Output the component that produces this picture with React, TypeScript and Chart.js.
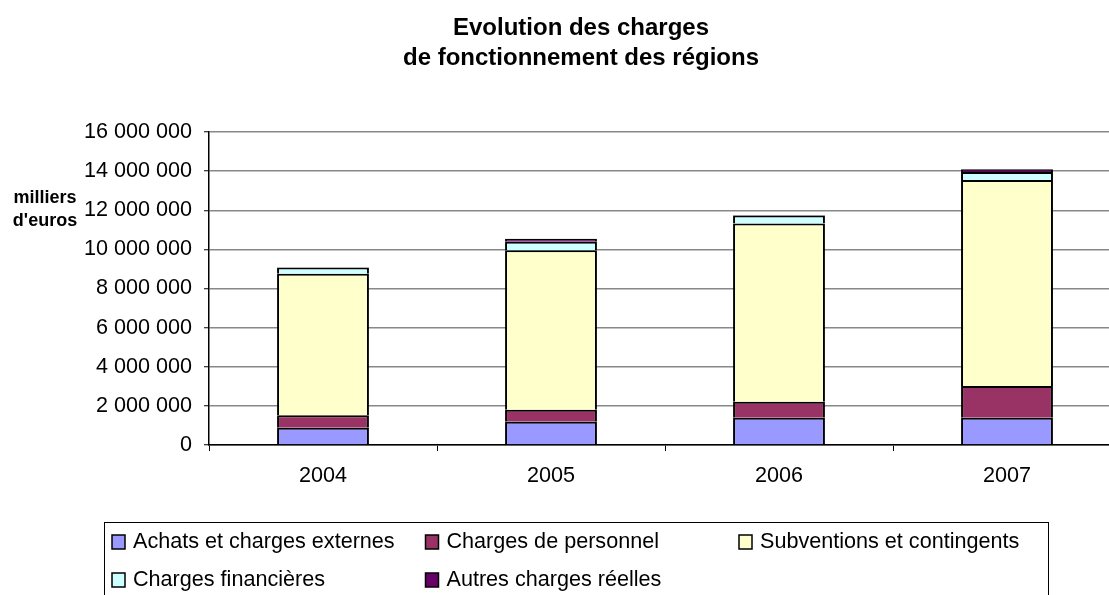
import React, { useEffect, useRef } from "react";
import { Chart, registerables } from "chart.js";

Chart.register(...registerables);

const categories = ["2004", "2005", "2006", "2007"];
const achats = [880000, 1190000, 1390000, 1390000];
const personnel = [640000, 610000, 820000, 1620000];
const subventions = [7230000, 8160000, 9110000, 10530000];
const financieres = [320000, 430000, 410000, 410000];
const autres = [20000, 150000, 25000, 150000];

const seriesNames = [
  "Achats et charges externes",
  "Charges de personnel",
  "Subventions et contingents",
  "Charges financières",
  "Autres charges réelles",
];
const seriesColors = ["#9999FF", "#993366", "#FFFFCC", "#CCFFFF", "#660066"];
const titleLines = ["Evolution des charges", "de fonctionnement des régions"];
const axisTitleLines = ["milliers", "d'euros"];

const FONT = "'Liberation Sans', Arial, sans-serif";

const fmt = (v: number) =>
  Math.round(v).toString().replace(/\B(?=(\d{3})+(?!\d))/g, " ");

const decorPlugin = {
  id: "decor",
  afterDraw(chart: any) {
    const ctx = chart.ctx;
    ctx.save();
    // Title
    ctx.fillStyle = "#000";
    ctx.font = `bold 24px ${FONT}`;
    ctx.textAlign = "center";
    ctx.textBaseline = "alphabetic";
    ctx.fillText(titleLines[0], 581, 35);
    ctx.fillText(titleLines[1], 581, 65);
    // Axis title
    ctx.font = `bold 18px ${FONT}`;
    ctx.textBaseline = "middle";
    ctx.fillText(axisTitleLines[0], 45, 198);
    ctx.fillText(axisTitleLines[1], 45, 221);
    // Legend box
    ctx.strokeStyle = "#000";
    ctx.lineWidth = 1;
    ctx.strokeRect(104.5, 522.5, 944, 90);
    const colX = [112, 425.5, 739];
    const rowY = [542, 580];
    ctx.font = `21.6px ${FONT}`;
    ctx.textAlign = "left";
    seriesNames.forEach((name, i) => {
      const col = i < 3 ? i : i - 3;
      const row = i < 3 ? 0 : 1;
      const x = colX[col];
      const y = rowY[row];
      ctx.fillStyle = seriesColors[i];
      ctx.fillRect(x, y - 7, 13, 14);
      ctx.strokeStyle = "#000";
      ctx.lineWidth = 1.5;
      ctx.strokeRect(x, y - 7, 13, 14);
      ctx.fillStyle = "#000";
      ctx.fillText(name, x + 21, y);
    });
    ctx.restore();
  },
};

export default function App() {
  const ref = useRef<HTMLCanvasElement>(null);
  useEffect(() => {
    if (!ref.current) return;
    const data = [achats, personnel, subventions, financieres, autres];
    const chart = new Chart(ref.current, {
      type: "bar",
      data: {
        labels: categories,
        datasets: data.map((d, i) => ({
          label: seriesNames[i],
          data: d,
          backgroundColor: seriesColors[i],
          borderColor: "#000",
          borderWidth: { top: 2, left: 2, right: 2, bottom: 0 },
          borderSkipped: false,
          inflateAmount: 0,
          categoryPercentage: 1,
          barPercentage: 0.403,
        })),
      },
      options: {
        responsive: false,
        animation: false,
        devicePixelRatio: 1,
        layout: { padding: { left: 0, top: 132, right: 9, bottom: 0 } },
        plugins: {
          legend: { display: false },
          title: { display: false },
          tooltip: { enabled: false },
        },
        scales: {
          x: {
            stacked: true,
            afterFit: (s: any) => {
              s.height = 150;
            },
            grid: {
              offset: true,
              drawOnChartArea: false,
              drawTicks: true,
              tickLength: 6,
              tickColor: "#000",
              tickWidth: 1,
            },
            border: { display: true, color: "#000", width: 1.5 },
            ticks: {
              color: "#000",
              font: { family: FONT, size: 21.6 },
              padding: 12,
              maxRotation: 0,
            },
          },
          y: {
            stacked: true,
            min: 0,
            max: 16000000,
            afterFit: (s: any) => {
              s.width = 209;
            },
            grid: {
              color: "#888",
              lineWidth: 1.5,
              drawTicks: true,
              tickLength: 5,
              tickColor: "#000",
              tickWidth: 1,
            },
            border: { display: true, color: "#000", width: 1.5 },
            ticks: {
              stepSize: 2000000,
              color: "#000",
              font: { family: FONT, size: 21.6 },
              padding: 12,
              callback: (v: any) => fmt(Number(v)),
            },
          },
        },
      },
      plugins: [decorPlugin],
    });
    return () => chart.destroy();
  }, []);
  return (
    <div
      style={{
        position: "fixed",
        left: 0,
        top: 0,
        width: 1109,
        height: 595,
        overflow: "hidden",
        background: "#fff",
      }}
    >
      <canvas ref={ref} width={1130} height={595} style={{ display: "block" }} />
    </div>
  );
}
